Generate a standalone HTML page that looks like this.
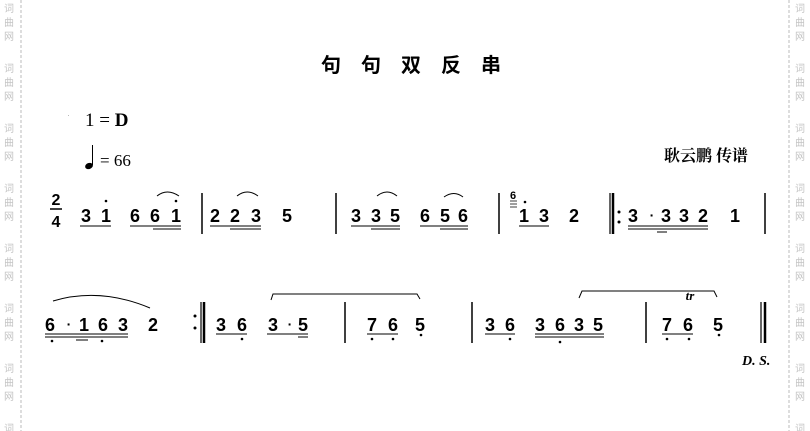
<!DOCTYPE html>
<html><head><meta charset="utf-8"><style>
html,body{margin:0;padding:0;background:#fff;}
svg{display:block;}
.n{font-family:"Liberation Sans",sans-serif;font-size:18px;font-weight:bold;fill:#000;text-anchor:middle;}
.w{font-family:"Noto Sans CJK SC",sans-serif;font-size:10px;fill:#c4c4c4;}
</style></head><body>
<svg width="810" height="431" viewBox="0 0 810 431" xmlns="http://www.w3.org/2000/svg">
<line x1="21" y1="0" x2="21" y2="431" stroke="#bbb" stroke-dasharray="3,2"/>
<line x1="789" y1="0" x2="789" y2="431" stroke="#bbb" stroke-dasharray="3,2"/>
<g class="w">
<text x="4" y="12">词</text><text x="4" y="26">曲</text><text x="4" y="40">网</text>
<text x="4" y="72">词</text><text x="4" y="86">曲</text><text x="4" y="100">网</text>
<text x="4" y="132">词</text><text x="4" y="146">曲</text><text x="4" y="160">网</text>
<text x="4" y="192">词</text><text x="4" y="206">曲</text><text x="4" y="220">网</text>
<text x="4" y="252">词</text><text x="4" y="266">曲</text><text x="4" y="280">网</text>
<text x="4" y="312">词</text><text x="4" y="326">曲</text><text x="4" y="340">网</text>
<text x="4" y="372">词</text><text x="4" y="386">曲</text><text x="4" y="400">网</text>
<text x="4" y="432">词</text>
<text x="795" y="12">词</text><text x="795" y="26">曲</text><text x="795" y="40">网</text>
<text x="795" y="72">词</text><text x="795" y="86">曲</text><text x="795" y="100">网</text>
<text x="795" y="132">词</text><text x="795" y="146">曲</text><text x="795" y="160">网</text>
<text x="795" y="192">词</text><text x="795" y="206">曲</text><text x="795" y="220">网</text>
<text x="795" y="252">词</text><text x="795" y="266">曲</text><text x="795" y="280">网</text>
<text x="795" y="312">词</text><text x="795" y="326">曲</text><text x="795" y="340">网</text>
<text x="795" y="372">词</text><text x="795" y="386">曲</text><text x="795" y="400">网</text>
<text x="795" y="432">词</text>
</g>
<g font-family="'Noto Sans CJK SC',sans-serif" font-size="20" font-weight="bold" text-anchor="middle">
<text x="331" y="72">句</text><text x="371" y="72">句</text><text x="411" y="72">双</text><text x="451" y="72">反</text><text x="491" y="72">串</text>
</g>
<text x="68" y="118" font-size="4">'</text>
<text x="85" y="126" font-family="'Liberation Serif',serif" font-size="19">1 = <tspan font-weight="bold">D</tspan></text>
<ellipse cx="89" cy="166" rx="4" ry="3" transform="rotate(-20 89 166)"/>
<line x1="92.5" y1="165" x2="92.5" y2="145" stroke="#000" stroke-width="1"/>
<text x="100" y="166" font-family="'Liberation Serif',serif" font-size="17">= 66</text>
<text x="664" y="161" font-family="'Noto Serif CJK SC',serif" font-size="16" font-weight="bold">耿云鹏 传谱</text>

<g class="n">
<text x="56" y="205" font-size="16">2</text><line x1="50" y1="209" x2="62" y2="209" stroke="#000" stroke-width="1.5"/><text x="56" y="227" font-size="16">4</text>
<text x="86" y="222">3</text><text x="106" y="222">1</text>
<text x="135" y="222">6</text><text x="155" y="222">6</text><text x="176" y="222">1</text>
<text x="215" y="222">2</text><text x="235" y="222">2</text><text x="256" y="222">3</text><text x="287" y="222">5</text>
<text x="356" y="222">3</text><text x="376" y="222">3</text><text x="395" y="222">5</text>
<text x="425" y="222">6</text><text x="445" y="222">5</text><text x="463" y="222">6</text>
<text x="524" y="222">1</text><text x="544" y="222">3</text><text x="574" y="222">2</text>
<text x="633" y="222">3</text><text x="652" y="220" font-size="14">·</text><text x="666" y="222">3</text><text x="684" y="222">3</text><text x="703" y="222">2</text><text x="735" y="222">1</text>
<text x="513" y="199" font-size="11">6</text>
</g>
<g fill="#000">
<circle cx="106" cy="201" r="1.3"/><circle cx="176" cy="201" r="1.3"/><circle cx="525" cy="202" r="1.3"/>
<circle cx="619" cy="212" r="1.5"/><circle cx="619" cy="222" r="1.5"/>
</g>
<g stroke="#000" fill="none" stroke-width="1">
<path d="M510 201 h7 M510 204 h7 M510 207 h7" stroke-width="0.8"/>
<line x1="80" y1="226" x2="111" y2="226"/>
<line x1="130" y1="226" x2="181" y2="226"/><line x1="153" y1="229" x2="181" y2="229"/>
<line x1="210" y1="226" x2="261" y2="226"/><line x1="230" y1="229" x2="261" y2="229"/>
<line x1="351" y1="226" x2="400" y2="226"/><line x1="371" y1="229" x2="400" y2="229"/>
<line x1="420" y1="226" x2="468" y2="226"/><line x1="440" y1="229" x2="468" y2="229"/>
<line x1="519" y1="226" x2="549" y2="226"/>
<line x1="628" y1="226" x2="708" y2="226"/><line x1="628" y1="229" x2="708" y2="229"/><line x1="657" y1="232" x2="667" y2="232"/>
<path d="M157 196 Q167 188 179 196"/>
<path d="M237 196 Q247 188 258 196"/>
<path d="M377 196 Q387 188 397 196"/>
<path d="M444 197 Q454 190 463 197"/>
<line x1="202" y1="193" x2="202" y2="234" stroke-width="1.5"/>
<line x1="336" y1="193" x2="336" y2="234" stroke-width="1.5"/>
<line x1="499" y1="193" x2="499" y2="234" stroke-width="1.5"/>
<line x1="610" y1="193" x2="610" y2="234" stroke-width="1.2"/>
<line x1="613" y1="193" x2="613" y2="234" stroke-width="2.5"/>
<line x1="765" y1="193" x2="765" y2="234" stroke-width="1.5"/>
</g>

<g class="n">
<text x="50" y="331">6</text><text x="69" y="329" font-size="14">·</text><text x="84" y="331">1</text><text x="103" y="331">6</text><text x="123" y="331">3</text><text x="153" y="331">2</text>
<text x="221" y="331">3</text><text x="242" y="331">6</text><text x="273" y="331">3</text><text x="290" y="329" font-size="14">·</text><text x="303" y="331">5</text>
<text x="372" y="331">7</text><text x="393" y="331">6</text><text x="420" y="331">5</text>
<text x="490" y="331">3</text><text x="510" y="331">6</text><text x="540" y="331">3</text><text x="560" y="331">6</text><text x="579" y="331">3</text><text x="598" y="331">5</text>
<text x="667" y="331">7</text><text x="688" y="331">6</text><text x="718" y="331">5</text>
</g>
<text x="690" y="300" font-family="'Liberation Serif',serif" font-style="italic" font-weight="bold" font-size="13" text-anchor="middle">tr</text>
<text x="742" y="365" font-family="'Liberation Serif',serif" font-style="italic" font-weight="bold" font-size="14">D. S.</text>
<g fill="#000">
<circle cx="52" cy="341" r="1.3"/><circle cx="102" cy="341" r="1.3"/>
<circle cx="242" cy="339" r="1.3"/><circle cx="372" cy="339" r="1.3"/><circle cx="393" cy="339" r="1.3"/><circle cx="421" cy="335" r="1.3"/>
<circle cx="510" cy="339" r="1.3"/><circle cx="560" cy="342" r="1.3"/>
<circle cx="667" cy="339" r="1.3"/><circle cx="689" cy="339" r="1.3"/><circle cx="719" cy="335" r="1.3"/>
<circle cx="195" cy="316" r="1.5"/><circle cx="195" cy="328" r="1.5"/>
</g>
<g stroke="#000" fill="none" stroke-width="1">
<line x1="45" y1="334" x2="128" y2="334"/><line x1="45" y1="337" x2="128" y2="337"/><line x1="76" y1="340" x2="88" y2="340"/>
<line x1="216" y1="334" x2="247" y2="334"/>
<line x1="267" y1="334" x2="308" y2="334"/><line x1="298" y1="337" x2="308" y2="337"/>
<line x1="367" y1="334" x2="398" y2="334"/>
<line x1="485" y1="334" x2="515" y2="334"/>
<line x1="535" y1="334" x2="604" y2="334"/><line x1="535" y1="337" x2="604" y2="337"/>
<line x1="662" y1="334" x2="693" y2="334"/>
<path d="M53 301 Q100 287 150 308"/>
<path d="M271 300 L273 294 L417 294 L420 299"/>
<path d="M579 298 L582 291 L714 291 L717 297"/>
<line x1="201" y1="302" x2="201" y2="343" stroke-width="1.2"/>
<line x1="204" y1="302" x2="204" y2="343" stroke-width="2.5"/>
<line x1="345" y1="302" x2="345" y2="343" stroke-width="1.5"/>
<line x1="472" y1="302" x2="472" y2="343" stroke-width="1.5"/>
<line x1="646" y1="302" x2="646" y2="343" stroke-width="1.5"/>
<line x1="761" y1="302" x2="761" y2="343" stroke-width="1.2"/>
<line x1="765" y1="302" x2="765" y2="343" stroke-width="2.5"/>
</g>
</svg>
</body></html>
